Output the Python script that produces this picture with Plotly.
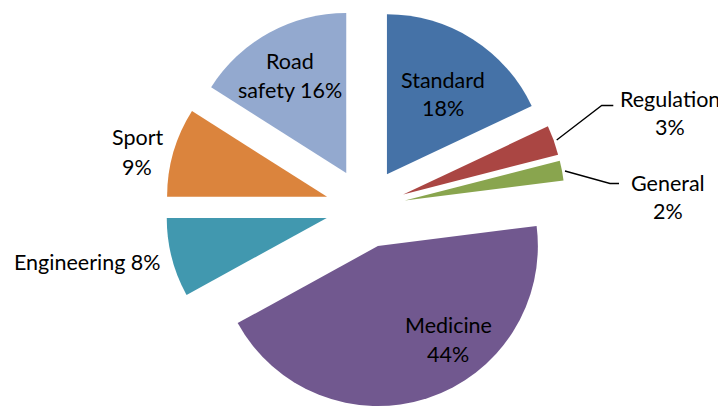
import plotly.graph_objects as go

categories = ["Standard", "Regulation", "General", "Medicine", "Engineering", "Sport", "Road safety"]
values = [18, 3, 2, 44, 8, 9, 16]
colors = ["#4572A7", "#AA4643", "#89A54E", "#71588F", "#4198AF", "#DB843D", "#93A9CF"]

W, H = 726, 408
ML, MR, MT, MB = 101, 112, 0, 8
PW, PH = W - ML - MR, H - MT - MB
OFF = 8  # page body margin

def px(x):
    return (x - OFF - ML) / PW

def py(y):
    return 1 - (y - OFF - MT) / PH

fig = go.Figure(go.Pie(
    labels=categories, values=values, sort=False, direction="clockwise", rotation=0,
    pull=[0.25] * len(values), marker=dict(colors=colors, line=dict(width=0)),
    textinfo="none", hoverinfo="label+percent", showlegend=False,
))

FONT = dict(family="Lato, Noto Sans, sans-serif", size=21.5, color="black")
# label lines: (text, x, y) in pixels (centre of text)
label_lines = [
    ("Standard", 443, 80), ("18%", 443, 108),
    ("Road", 290, 61), ("safety 16%", 290, 90),
    ("Sport", 137, 137), ("9%", 137, 167),
    ("Engineering 8%", 87, 262),
    ("Medicine", 448, 325), ("44%", 448, 354),
    ("Regulation", 670, 99), ("3%", 670, 127),
    ("General", 668, 183), ("2%", 668, 211),
]
for t, x, y in label_lines:
    fig.add_annotation(text=t, x=px(x), y=py(y), xref="paper", yref="paper",
                       showarrow=False, font=FONT, xanchor="center", yanchor="middle")

leaders = [
    [(556.7, 140), (601.7, 105.5), (613.3, 105.5)],
    [(565, 171), (610, 183.5), (619, 183.5)],
]
for pts in leaders:
    path = "M " + " L ".join(f"{px(x)},{py(y)}" for x, y in pts)
    fig.add_shape(type="path", path=path, xref="paper", yref="paper",
                  line=dict(color="black", width=1.3))

fig.update_layout(width=W, height=H, margin=dict(l=ML, r=MR, t=MT, b=MB),
                  paper_bgcolor="white", plot_bgcolor="white")
fig.write_html("out.html")
